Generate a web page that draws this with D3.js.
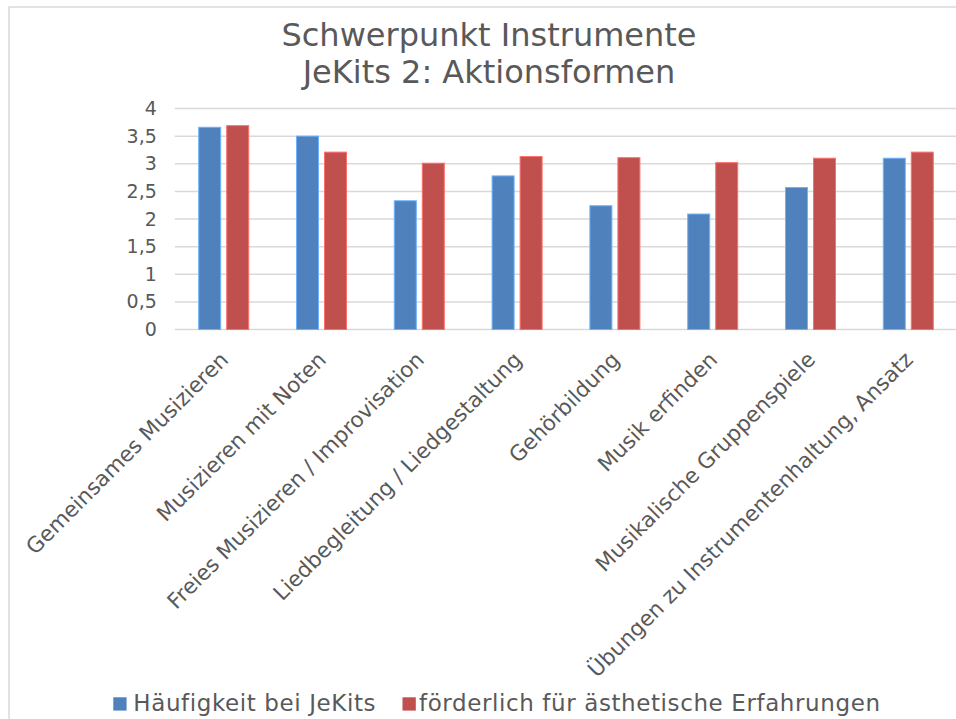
<!DOCTYPE html>
<html><head><meta charset="utf-8">
<script src="https://cdn.jsdelivr.net/npm/d3@7"></script>
<style>
body{margin:0;background:#fff;}
svg{display:block;font-family:"DejaVu Sans",Verdana,sans-serif;}
</style></head>
<body><svg id="c" width="956" height="719"></svg>
<script>
const categories = ["Gemeinsames Musizieren","Musizieren mit Noten","Freies Musizieren / Improvisation","Liedbegleitung / Liedgestaltung","Gehörbildung","Musik erfinden","Musikalische Gruppenspiele","Übungen zu Instrumentenhaltung, Ansatz"];
const seriesNames = ["Häufigkeit bei JeKits","förderlich für ästhetische Erfahrungen"];
const haeufigkeit = [3.66,3.50,2.33,2.78,2.24,2.09,2.57,3.10];
const foerderlich = [3.69,3.21,3.01,3.13,3.11,3.02,3.10,3.21];
const yTicks = [0,0.5,1,1.5,2,2.5,3,3.5,4];
const colors = ["#4f81bd","#c0504d"];
const titleLines = ["Schwerpunkt Instrumente","JeKits 2: Aktionsformen"];

const svg = d3.select("#c");
const textCol = "#595959", gridCol = "#d9d9d9";

// frame
svg.append("rect").attr("x",9).attr("y",7).attr("width",1000).attr("height",760)
  .attr("fill","#fff").attr("stroke",gridCol).attr("stroke-width",1.5);

const plot = {left:174.8, right:957.2, top:108.5, bottom:329.5};
const y = d3.scaleLinear().domain([0,4]).range([plot.bottom, plot.top]);
const x0 = d3.scaleBand().domain(categories).range([plot.left, plot.right]).padding(0);
const bw = x0.bandwidth();
const x1 = d3.scaleBand().domain(seriesNames).range([bw/2-25, bw/2+25]).paddingInner(6/28);

// gridlines
svg.append("g").selectAll("line").data(yTicks).join("line")
  .attr("x1",plot.left).attr("x2",plot.right)
  .attr("y1",d=>y(d)).attr("y2",d=>y(d))
  .attr("stroke",gridCol).attr("stroke-width",1.5);

// y axis labels
const yAxis = d3.axisLeft(y).tickValues(yTicks).tickSize(0).tickPadding(18)
  .tickFormat(d=>String(d).replace(".",","));
const ya = svg.append("g").attr("transform",`translate(${plot.left},0)`).call(yAxis);
ya.select(".domain").remove();
ya.selectAll("text").attr("fill",textCol).style("font-size","19px").style("font-family","DejaVu Sans");

// bars
const series = [haeufigkeit, foerderlich];
const g = svg.append("g");
categories.forEach((c,i)=>{
  series.forEach((s,j)=>{
    g.append("rect")
      .attr("x", x0(c)+x1(seriesNames[j]))
      .attr("width", x1.bandwidth())
      .attr("y", y(s[i]))
      .attr("height", y(0)-y(s[i]))
      .attr("fill", colors[j])
      .attr("stroke", d3.color(colors[j]).brighter(0.9))
      .attr("stroke-width",1);
  });
});

// x labels
svg.append("g").selectAll("text").data(categories).join("text")
  .attr("transform",d=>`translate(${x0(d)+bw/2+6},361) rotate(-45)`)
  .attr("text-anchor","end")
  .attr("fill",textCol).style("font-size","21.5px")
  .text(d=>d);

// title
svg.append("text").attr("x",489).attr("y",45.5).attr("text-anchor","middle")
  .attr("fill",textCol).style("font-size","32px")
  .selectAll("tspan").data(titleLines).join("tspan")
  .attr("x",489).attr("dy",(d,i)=>i===0?0:37.5).text(d=>d);

// legend
const legX = [113.3, 402.5];
const legTextX = [133.3, 419];
seriesNames.forEach((n,j)=>{
  svg.append("rect").attr("x",legX[j]).attr("y",697.3).attr("width",13.3).attr("height",13.3).attr("fill",colors[j]);
  svg.append("text").attr("x",legTextX[j]).attr("y",710.7).attr("fill",textCol)
    .style("font-size","23px").style("letter-spacing","0.6px").text(n);
});
</script></body></html>
